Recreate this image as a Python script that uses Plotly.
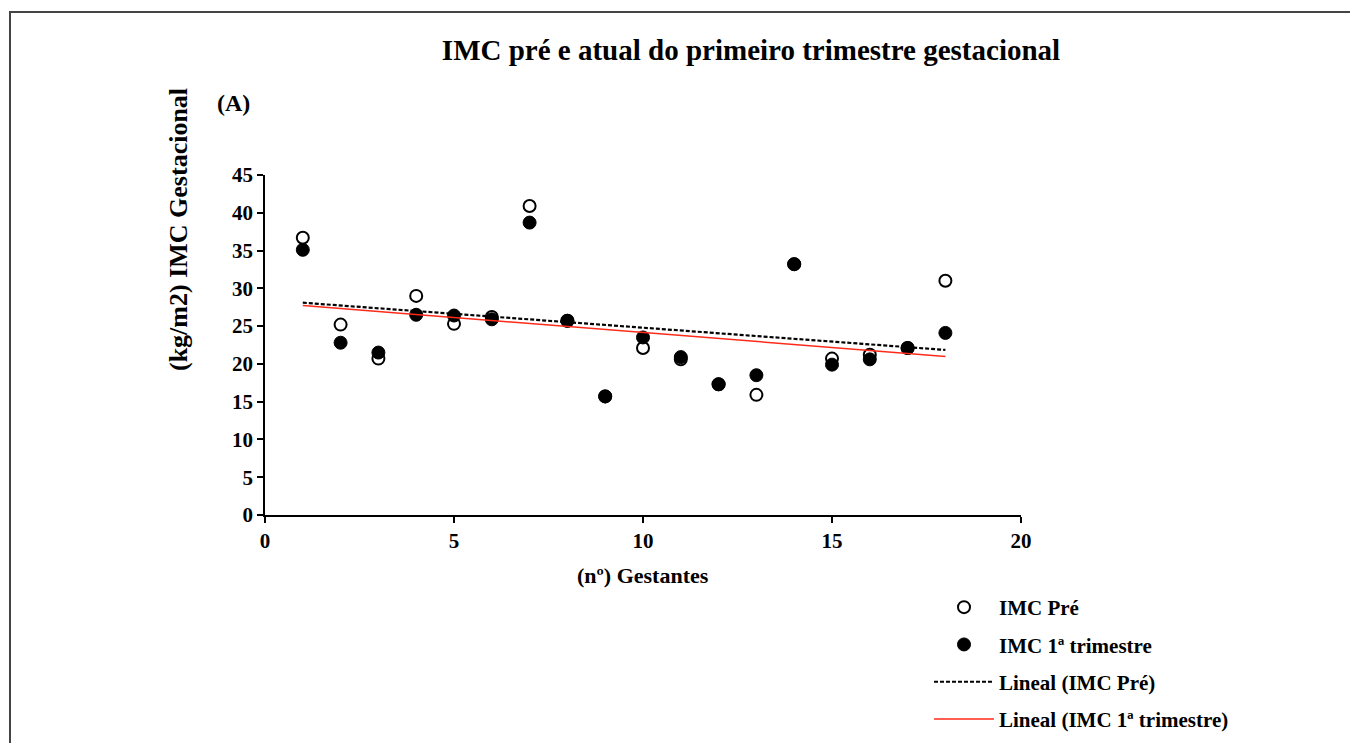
import numpy as np
import plotly.graph_objects as go

gestantes = list(range(1, 19))
imc_pre = [36.7, 25.2, 20.7, 29.0, 25.3, 26.2, 40.9, 25.7, 15.7, 22.1,
           20.6, 17.3, 15.9, 33.2, 20.7, 21.2, 22.1, 31.0]
imc_1tri = [35.1, 22.8, 21.5, 26.5, 26.4, 25.9, 38.7, 25.7, 15.7, 23.5,
            20.9, 17.3, 18.5, 33.2, 19.9, 20.6, 22.1, 24.1]

x_ticks = [0, 5, 10, 15, 20]
y_ticks = [0, 5, 10, 15, 20, 25, 30, 35, 40, 45]

FONT = "Liberation Serif"

# linear trendlines from the data
x_arr = np.array(gestantes, dtype=float)
p_pre = np.polyfit(x_arr, np.array(imc_pre), 1)
p_tri = np.polyfit(x_arr, np.array(imc_1tri), 1)
trend_x = [gestantes[0], gestantes[-1]]
trend_pre = list(np.polyval(p_pre, trend_x))
trend_tri = list(np.polyval(p_tri, trend_x))

fig = go.Figure()
fig.add_trace(go.Scatter(
    x=gestantes, y=imc_pre, mode="markers", name="IMC Pré",
    legendgroup="a",
    marker=dict(size=12, color="white", line=dict(color="black", width=2)),
))
fig.add_trace(go.Scatter(
    x=gestantes, y=imc_1tri, mode="markers", name="IMC 1ª trimestre",
    legendgroup="b",
    marker=dict(size=13, color="black", line=dict(color="black", width=1)),
))
fig.add_trace(go.Scatter(
    x=trend_x, y=trend_pre, mode="lines", name="Lineal (IMC Pré)",
    legendgroup="c",
    line=dict(color="black", width=2.2, dash="4px,2px"),
))
fig.add_trace(go.Scatter(
    x=trend_x, y=trend_tri, mode="lines", name="Lineal (IMC 1ª trimestre)",
    legendgroup="d",
    line=dict(color="#ff2a1a", width=1.5),
))

OFF = 8  # page body margin
PL, PR, PT, PB = 265, 1021, 175, 515  # plot area in screen px
FIG_W, FIG_H = 1358 - 2 * OFF, 751 - 2 * OFF
L, T = PL - OFF, PT - OFF
W, H = PR - PL, PB - PT
R = FIG_W - L - W
B = FIG_H - T - H


def px_x(p):
    return (p - PL) / W


def px_y(p):
    return (PB - p) / H


fig.update_layout(
    width=FIG_W, height=FIG_H,
    margin=dict(l=L, r=R, t=T, b=B, autoexpand=False),
    paper_bgcolor="white", plot_bgcolor="white",
    font=dict(family=FONT, color="black"),
    title=dict(
        text="<b>IMC pré e atual do primeiro trimestre gestacional</b>",
        font=dict(family=FONT, size=29, color="black"),
        x=px_x(751), xref="paper", xanchor="center",
        y=1 - (50 - OFF) / FIG_H, yref="container", yanchor="middle",
    ),
    showlegend=True,
    legend=dict(
        x=px_x(929), y=px_y(587), xanchor="left", yanchor="top",
        font=dict(family=FONT, size=21, color="black", weight="bold"),
        tracegroupgap=7, bgcolor="rgba(0,0,0,0)",
        itemwidth=60,
    ),
    xaxis=dict(
        range=[0, 20], tickvals=x_ticks, ticktext=[str(v) for v in x_ticks],
        showline=True, linecolor="black", linewidth=1.5,
        ticks="outside", ticklen=6, tickcolor="black", tickwidth=1.5,
        showgrid=False, zeroline=False,
        tickfont=dict(family=FONT, size=21, color="black", weight="bold"),
    ),
    yaxis=dict(
        range=[0, 45], tickvals=y_ticks, ticktext=[str(v) for v in y_ticks],
        showline=True, linecolor="black", linewidth=1.5,
        ticks="outside", ticklen=6, tickcolor="black", tickwidth=1.5,
        showgrid=False, zeroline=False,
        tickfont=dict(family=FONT, size=21, color="black", weight="bold"),
    ),
    annotations=[
        dict(text="<b>(A)</b>", xref="paper", yref="paper",
             x=px_x(233), y=px_y(103), xanchor="center", yanchor="middle",
             showarrow=False, font=dict(family=FONT, size=24, color="black")),
        dict(text="<b>(kg/m2) IMC Gestacional</b>", xref="paper", yref="paper",
             x=px_x(178), y=px_y(230), xanchor="center", yanchor="middle",
             textangle=-90, showarrow=False,
             font=dict(family=FONT, size=26, color="black")),
        dict(text="<b>(nº) Gestantes</b>", xref="paper", yref="paper",
             x=px_x(643), y=px_y(575), xanchor="center", yanchor="middle",
             showarrow=False, font=dict(family=FONT, size=22, color="black")),
    ],
    shapes=[
        dict(type="rect", xref="paper", yref="paper",
             x0=px_x(10), y0=px_y(800), x1=px_x(1400), y1=px_y(12),
             line=dict(color="#444", width=2), fillcolor="rgba(0,0,0,0)",
             layer="below"),
    ],
)

fig.write_html("out.html")
